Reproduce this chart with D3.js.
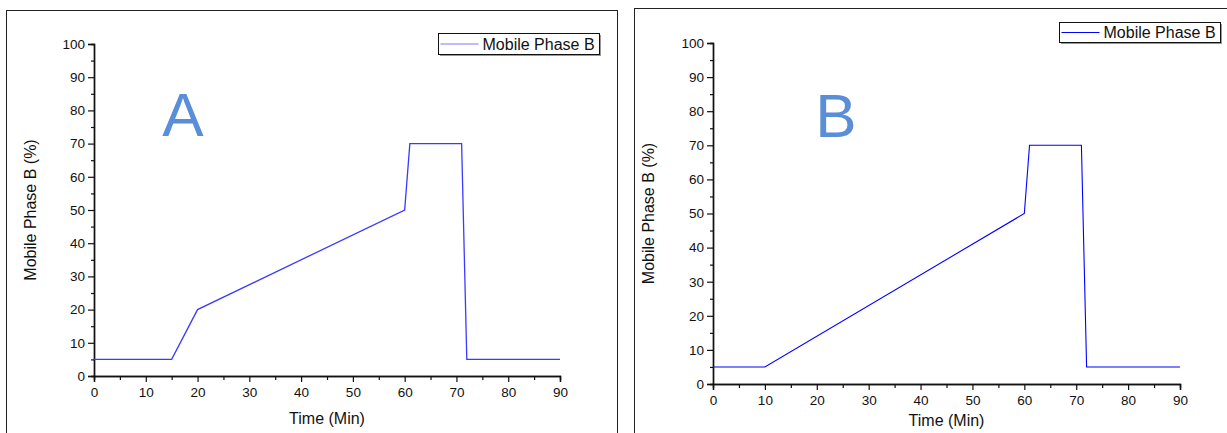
<!DOCTYPE html>
<html>
<head>
<meta charset="utf-8">
<script src="https://cdn.jsdelivr.net/npm/d3@7"></script>
<style>
  html, body { margin: 0; padding: 0; background: #fff; }
  svg { display: block; font-family: 'Liberation Sans', Arial, sans-serif; }
</style>
</head>
<body>
<svg id="chart" width="1227" height="433"></svg>
<script>
// gradient A
const timeA = [0, 15, 20, 60, 61, 71, 72, 90]
const phaseA = [5, 5, 20, 50, 70, 70, 5, 5]
// gradient B
const timeB = [0, 10, 60, 61, 71, 72, 90]
const phaseB = [5, 5, 50, 70, 70, 5, 5]

const xMajor = [0, 10, 20, 30, 40, 50, 60, 70, 80, 90]
const xMinor = [5, 15, 25, 35, 45, 55, 65, 75, 85]
const yMajor = [0, 10, 20, 30, 40, 50, 60, 70, 80, 90, 100]
const yMinor = [5, 15, 25, 35, 45, 55, 65, 75, 85, 95]

const seriesName = 'Mobile Phase B'
const xTitle = 'Time (Min)'
const yTitle = 'Mobile Phase B (%)'

const svg = d3.select('#chart')

const panels = [
  {
    letter: 'A', time: timeA, phase: phaseA, color: '#3a3aff', lineWidth: 1.3, legendColor: '#7a7aff',
    frame: { x: 6.5, y: 10.5, w: 611, h: 460 },
    left: 94, right: 560, top: 44, bottom: 376, titleGap: 48, yTitleX: 30,
    legend: { x: 438.5, y: 33.5, w: 161, h: 21 },
    letterPos: [183, 136]
  },
  {
    letter: 'B', time: timeB, phase: phaseB, color: '#0000ff', lineWidth: 1.1, legendColor: '#0000ff',
    frame: { x: 634.5, y: 8.5, w: 640, h: 460 },
    left: 713, right: 1180, top: 43, bottom: 384, titleGap: 42, yTitleX: 648,
    legend: { x: 1059.5, y: 22.5, w: 161, h: 20 },
    letterPos: [836, 137]
  }
]

panels.forEach(p => {
  const g = svg.append('g')

  g.append('rect')
    .attr('x', p.frame.x).attr('y', p.frame.y)
    .attr('width', p.frame.w).attr('height', p.frame.h)
    .attr('fill', 'none').attr('stroke', '#222').attr('stroke-width', 1)

  const x = d3.scaleLinear().domain([0, 90]).range([p.left, p.right])
  const y = d3.scaleLinear().domain([0, 100]).range([p.bottom, p.top])

  // minor ticks
  g.append('g')
    .attr('transform', `translate(${p.left},0)`)
    .call(d3.axisLeft(y).tickValues(yMinor).tickSize(3).tickFormat(''))
  g.append('g')
    .attr('transform', `translate(0,${p.bottom})`)
    .call(d3.axisBottom(x).tickValues(xMinor).tickSize(4).tickFormat(''))

  // major ticks
  g.append('g')
    .attr('transform', `translate(${p.left},0)`)
    .call(d3.axisLeft(y).tickValues(yMajor).tickSize(6).tickPadding(3).tickFormat(d3.format('d')))
  g.append('g')
    .attr('transform', `translate(0,${p.bottom})`)
    .call(d3.axisBottom(x).tickValues(xMajor).tickSize(6).tickPadding(5).tickFormat(d3.format('d')))

  g.selectAll('.domain').attr('stroke', '#111').attr('stroke-width', 1.4)
  g.selectAll('.tick line').attr('stroke', '#111').attr('stroke-width', 1.2)
  g.selectAll('.tick text').attr('font-size', 13.5).attr('fill', '#111')
    .attr('font-family', "'Liberation Sans', Arial, sans-serif")

  g.append('text')
    .attr('x', (p.left + p.right) / 2).attr('y', p.bottom + p.titleGap)
    .attr('text-anchor', 'middle').attr('font-size', 16).attr('fill', '#111')
    .text(xTitle)

  g.append('text')
    .attr('transform', `translate(${p.yTitleX + 6},${(p.top + p.bottom) / 2}) rotate(-90)`)
    .attr('text-anchor', 'middle').attr('font-size', 16).attr('fill', '#111')
    .text(yTitle)

  const data = p.time.map((t, i) => ({ t, v: p.phase[i] }))
  const line = d3.line().x(d => x(d.t)).y(d => y(d.v))
  g.append('path')
    .datum(data)
    .attr('fill', 'none')
    .attr('stroke', p.color)
    .attr('stroke-width', p.lineWidth)
    .attr('d', line)

  // legend
  const lg = g.append('g')
  lg.append('rect')
    .attr('x', p.legend.x + 1.5).attr('y', p.legend.y + 1.5)
    .attr('width', p.legend.w).attr('height', p.legend.h)
    .attr('fill', '#999')
  lg.append('rect')
    .attr('x', p.legend.x).attr('y', p.legend.y)
    .attr('width', p.legend.w).attr('height', p.legend.h)
    .attr('fill', '#fff').attr('stroke', '#111').attr('stroke-width', 1)
  lg.append('line')
    .attr('x1', p.legend.x + 2).attr('x2', p.legend.x + 40)
    .attr('y1', p.legend.y + p.legend.h / 2).attr('y2', p.legend.y + p.legend.h / 2)
    .attr('stroke', p.legendColor).attr('stroke-width', 1.2)
  lg.append('text')
    .attr('x', p.legend.x + 44).attr('y', p.legend.y + p.legend.h / 2 + 5.5)
    .attr('font-size', 16).attr('fill', '#111')
    .text(seriesName)

  g.append('text')
    .attr('x', p.letterPos[0]).attr('y', p.letterPos[1])
    .attr('text-anchor', 'middle').attr('font-size', 62)
    .attr('font-family', "'Liberation Sans', Arial, sans-serif")
    .attr('fill', '#5b8ed8')
    .text(p.letter)
})
</script>
</body>
</html>
